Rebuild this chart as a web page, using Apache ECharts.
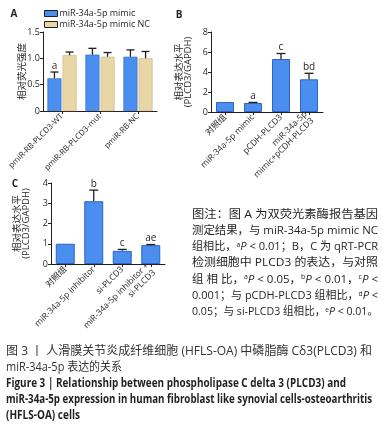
<!DOCTYPE html>
<html><head><meta charset="utf-8">
<script src="https://cdn.jsdelivr.net/npm/echarts@6/dist/echarts.min.js"></script>
<style>html,body{margin:0;padding:0;background:#fff}#c{width:383px;height:431px}</style>
</head><body><div id="c"></div>
<script>
// ---------- data ----------
const aCats = ['pmiR-RB-PLCD3-WT', 'pmiR-RB-PLCD3-mut', 'pmiR-RB-NC'];
const aMimic = [0.62, 1.07, 1.03];
const aMimicErr = [0.12, 0.12, 0.13];
const aMimicSig = ['a', '', ''];
const aNC = [1.06, 1.03, 1.0];
const aNCErr = [0.06, 0.08, 0.13];
const aNCSig = ['', '', ''];
const aTicks = [0, 0.5, 1.0, 1.5];

const bCats = ['对照组', 'miR-34a-5p mimic', 'pCDH-PLCD3', 'miR-34a-5p\nmimic+pCDH-PLCD3'];
const bVals = [1.0, 0.9, 5.3, 3.27];
const bErr = [0, 0.06, 0.55, 0.6];
const bSig = ['', 'a', 'c', 'bd'];
const bTicks = [0, 2, 4, 6, 8];

const cCats = ['对照组', 'miR-34a-5p inhibitor', 'si-PLCD3', 'miR-34a-5p inhibitor +\nsi-PLCD3'];
const cVals = [1.0, 3.1, 0.65, 0.93];
const cErr = [0, 0.55, 0.07, 0.03];
const cSig = ['', 'b', 'c', 'ae'];
const cTicks = [0, 1, 2, 3, 4];

const legendNames = ['miR-34a-5p mimic', 'miR-34a-5p mimic NC'];

const notes = [
  [['n', '图注：图 A 为双荧光素酶报告基因']],
  [['n', '测定结果，与 miR-34a-5p mimic NC']],
  [['n', '组相比，'], ['s', 'a'], ['i', 'P'], ['n', ' < 0.01；B，C 为 qRT-PCR']],
  [['n', '检测细胞中 PLCD3 的表达，与对照']],
  [['n', '组 相 比，'], ['s', 'a'], ['i', 'P'], ['n', ' < 0.05，'], ['s', 'b'], ['i', 'P'], ['n', ' < 0.01，'], ['s', 'c'], ['i', 'P'], ['n', ' <']],
  [['n', '0.001；与 pCDH-PLCD3 组相比，'], ['s', 'd'], ['i', 'P'], ['n', ' <']],
  [['n', '0.05；与 si-PLCD3 组相比，'], ['s', 'e'], ['i', 'P'], ['n', ' < 0.01。']]
];
const captionCn = ['图 3 丨 人滑膜关节炎成纤维细胞 (HFLS-OA) 中磷脂酶 Cδ3(PLCD3) 和', 'miR-34a-5p 表达的关系'];
const captionEn = ['Figure 3 | Relationship between phospholipase C delta 3 (PLCD3) and', 'miR-34a-5p expression in human fibroblast like synovial cells-osteoarthritis', '(HFLS-OA) cells'];

// ---------- style ----------
const INK = '#231f20';
const BLUE = '#4a8ff0';
const BLUE_B = '#2f64c2';
const BEIGE = '#e8d6a6';
const BEIGE_B = '#c9b480';
const FAM = '"Open Sans","Noto Sans CJK SC",sans-serif';

const chart = echarts.init(document.getElementById('c'), null, {renderer: 'canvas'});

function catAxis(g, cats, fs) {
  return {
    type: 'category', gridIndex: g, data: cats,
    axisLine: {show: true, lineStyle: {color: INK, width: 1}},
    axisTick: {show: true, alignWithLabel: true, length: 3, lineStyle: {color: INK}},
    axisLabel: {rotate: 45, interval: 0, fontSize: fs, margin: 4, color: INK, fontFamily: FAM, lineHeight: fs + 1},
    splitLine: {show: false}
  };
}
function valAxis(g, ticks, name, gap, fmt) {
  return {
    type: 'value', gridIndex: g, min: ticks[0], max: ticks[ticks.length - 1],
    interval: ticks[1] - ticks[0],
    name: name, nameLocation: 'middle', nameRotate: 90, nameGap: gap,
    nameMoveOverlap: false,
    nameTextStyle: {fontSize: 9.5, color: INK, fontFamily: FAM, lineHeight: 9, align: 'center', verticalAlign: 'bottom'},
    axisLine: {show: true, lineStyle: {color: INK, width: 1}},
    axisTick: {show: true, length: 3, lineStyle: {color: INK}},
    axisLabel: {fontSize: 9, margin: 3, color: INK, fontFamily: FAM, formatter: fmt},
    splitLine: {show: false}
  };
}

function errSeries(g, vals, errs, sig, offset, capHalf) {
  return {
    type: 'custom', xAxisIndex: g, yAxisIndex: g, z: 5,
    data: vals.map((v, i) => [i, v, errs[i]]),
    renderItem: function (params, api) {
      const i = api.value(0), v = api.value(1), e = api.value(2);
      const base = api.coord([i, v]);
      const top = api.coord([i, v + e]);
      const x = base[0] + offset;
      const children = [];
      if (e > 0) {
        children.push({type: 'line', shape: {x1: x, y1: base[1], x2: x, y2: top[1]}, style: {stroke: INK, lineWidth: 1.3}});
        children.push({type: 'line', shape: {x1: x - capHalf, y1: top[1], x2: x + capHalf, y2: top[1]}, style: {stroke: INK, lineWidth: 1.3}});
      }
      const s = sig[params.dataIndex];
      if (s) {
        children.push({type: 'text', style: {text: s, x: x, y: top[1] - 1, fill: INK, fontSize: 10, fontFamily: FAM, align: 'center', verticalAlign: 'bottom', textAlign: 'center', textVerticalAlign: 'bottom'}});
      }
      return {type: 'group', children: children};
    }
  };
}

// ---------- text with measured width ----------
const mctx = document.createElement('canvas').getContext('2d');
function fontStr(st) {
  return (st.fontStyle === 'italic' ? 'italic ' : '') + (st.fontWeight === 'bold' ? 'bold ' : '') + st.fontSize + 'px ' + FAM;
}
const noteRich = {
  n: {fontSize: 11.5, fontFamily: FAM, fill: INK, color: INK},
  i: {fontSize: 11.5, fontFamily: FAM, fontStyle: 'italic', fill: INK, color: INK},
  s: {fontSize: 7, fontFamily: FAM, fill: INK, color: INK, verticalAlign: 'top'}
};
function segWidth(segs, rich) {
  let w = 0;
  segs.forEach(([k, t]) => { mctx.font = fontStr(rich[k]); w += mctx.measureText(t).width; });
  return w;
}
const graphics = [];
function addText(x, y, w, segs, rich) {
  const mw = segWidth(segs, rich);
  const txt = segs.map(([k, t]) => '{' + k + '|' + t + '}').join('');
  graphics.push({
    type: 'text', x: x, y: y, scaleX: w / mw, scaleY: 1,
    style: {text: txt, rich: rich, fill: INK, align: 'left', verticalAlign: 'middle', textAlign: 'left', textVerticalAlign: 'middle'}
  });
}
const noteY = [214.3, 230.6, 246.9, 263.2, 279.5, 295.8, 312.1];
const noteW = [186, 186, 186, 186, 186, 186, 186];
notes.forEach((segs, k) => addText(192, noteY[k], noteW[k], segs, noteRich));

const capCnRich = {n: {fontSize: 12, fontFamily: FAM, fill: '#333333', color: '#333333'}};
addText(6, 352, 366, [['n', captionCn[0]]], capCnRich);
addText(6, 368, 116, [['n', captionCn[1]]], capCnRich);
const capEnRich = {n: {fontSize: 11.5, fontFamily: FAM, fontWeight: 'bold', fill: INK, color: INK}};
addText(6, 384, 340, [['n', captionEn[0]]], capEnRich);
addText(6, 400, 366, [['n', captionEn[1]]], capEnRich);
addText(6, 416, 74, [['n', captionEn[2]]], capEnRich);

[['A', 14, 14], ['B', 179, 15], ['C', 15, 184]].forEach(([t, x, y]) => {
  graphics.push({type: 'text', x: x, y: y, style: {text: t, fill: INK, fontSize: 10, fontWeight: 'bold', fontFamily: FAM, align: 'center', verticalAlign: 'middle', textAlign: 'center', textVerticalAlign: 'middle'}});
});

const fmtA = v => (v === 0 ? '0' : v.toFixed(1));

const option = {
  animation: false,
  backgroundColor: '#ffffff',
  legend: {
    orient: 'vertical', left: 44, top: 9,
    itemWidth: 13, itemHeight: 6, itemGap: 2,
    icon: 'rect',
    textStyle: {fontSize: 9, color: INK, fontFamily: FAM, padding: [0, 0, 0, -3]},
    padding: 0,
    data: legendNames.map(n => ({name: n, itemStyle: {borderColor: INK, borderWidth: 1}}))
  },
  grid: [
    {left: 43, top: 32, width: 114, height: 79},
    {left: 211, top: 32, width: 112, height: 80},
    {left: 51, top: 183, width: 114, height: 81}
  ],
  xAxis: [catAxis(0, aCats, 8), catAxis(1, bCats, 8.5), catAxis(2, cCats, 8.5)],
  yAxis: [
    valAxis(0, aTicks, '相对荧光强度', 16, fmtA),
    valAxis(1, bTicks, '相对表达水平\n(PLCD3/GAPDH)', 18),
    valAxis(2, cTicks, '相对表达水平\n(PLCD3/GAPDH)', 20)
  ],
  series: [
    {name: legendNames[0], type: 'bar', xAxisIndex: 0, yAxisIndex: 0, data: aMimic, barWidth: 14, barGap: '8%',
      itemStyle: {color: BLUE, borderColor: BLUE_B, borderWidth: 0.6}},
    {name: legendNames[1], type: 'bar', xAxisIndex: 0, yAxisIndex: 0, data: aNC, barWidth: 14, barGap: '8%',
      itemStyle: {color: BEIGE, borderColor: BEIGE_B, borderWidth: 0.6}},
    {type: 'bar', xAxisIndex: 1, yAxisIndex: 1, data: bVals, barWidth: 18,
      itemStyle: {color: BLUE, borderColor: BLUE_B, borderWidth: 1}},
    {type: 'bar', xAxisIndex: 2, yAxisIndex: 2, data: cVals, barWidth: 19,
      itemStyle: {color: BLUE, borderColor: BLUE_B, borderWidth: 1}},
    errSeries(0, aMimic, aMimicErr, aMimicSig, -7.56, 4),
    errSeries(0, aNC, aNCErr, aNCSig, 7.56, 4),
    errSeries(1, bVals, bErr, bSig, 0, 4.5),
    errSeries(2, cVals, cErr, cSig, 0, 4.5)
  ],
  graphic: graphics
};
chart.setOption(option);
</script></body></html>
